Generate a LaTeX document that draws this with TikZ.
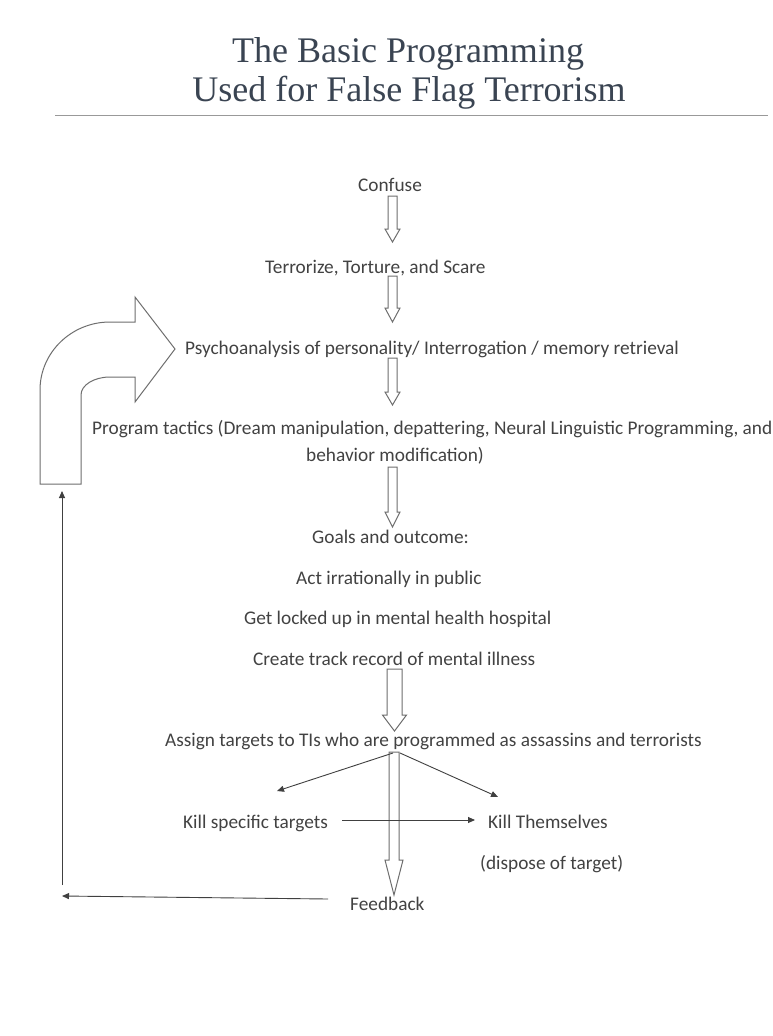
\documentclass[tikz,border=0pt]{standalone}
\usepackage{fontspec}
\setmainfont{Carlito}
\newfontfamily\titlefont{Liberation Serif}
\usetikzlibrary{arrows.meta}
\definecolor{txt}{RGB}{66,66,66}
\definecolor{ttl}{RGB}{58,68,82}
\definecolor{ln}{RGB}{110,110,110}
\newcommand\hollowarrow[6]{%
  \draw[hollow] ({#1-#5},#2) -- ({#1+#5},#2) -- ({#1+#5},#3) -- ({#1+#6},#3) -- (#1,#4)
    -- ({#1-#6},#3) -- ({#1-#5},#3) -- cycle;}
\begin{document}
\begin{tikzpicture}[x=1pt,y=-1pt,
  lbl/.style={anchor=base west, inner sep=0pt, text=txt, font=\fontsize{19.3}{22}\selectfont},
  ttlstyle/.style={anchor=base, inner sep=0pt, text=ttl, font=\titlefont\fontsize{36}{40}\selectfont},
  hollow/.style={draw=ln, line width=1pt, fill=white, line join=miter},
  thinarr/.style={draw=black!75, line width=0.9pt, -{Triangle[length=7pt,width=6pt]}}]
\useasboundingbox (0,0) rectangle (772,1036);
\fill[white] (0,0) rectangle (772,1036);

% title
\node[ttlstyle] (t1) at (408,62) {The Basic Programming};
\node[ttlstyle] (t2) at (409,101) {Used for False Flag Terrorism};
\draw[black!40, line width=1pt] (55,115) -- (768,115);

% hollow arrows
\hollowarrow{392.5}{196}{229}{242}{4.5}{7.5}
\hollowarrow{392.5}{276}{308}{322}{4.5}{7.5}
\hollowarrow{392.5}{358}{392}{405}{4.5}{7.5}
\hollowarrow{392.5}{467}{512}{527}{4.5}{7.5}
\hollowarrow{394.5}{669}{715}{731}{7.5}{12}
\hollowarrow{394}{752}{860}{895}{5}{9}

% curved arrow
\draw[hollow] (40,484) -- (40,390) .. controls (40,352.5) and (71.4,322) .. (110,322)
  -- (135,322) -- (135,297) -- (175,349) -- (135,402) -- (135,377) -- (110,377)
  .. controls (94,377) and (81,385) .. (81,395) -- (81,484) -- cycle;

% labels
\node[lbl] (confuse) at (358,191.5) {Confuse};
\node[lbl] (terr) at (265,273.5) {Terrorize, Torture, and Scare};
\node[lbl] (psy) at (185,354.5) {Psychoanalysis of personality/ Interrogation / memory retrieval};
\node[lbl] (prog) at (92,434.5) {Program tactics (Dream manipulation, depattering, Neural Linguistic Programming, and};
\node[lbl] (beh) at (306,461.5) {behavior modification)};
\node[lbl] (goals) at (312,543.5) {Goals and outcome:};
\node[lbl] (act) at (296,584.5) {Act irrationally in public};
\node[lbl] (get) at (244,624.5) {Get locked up in mental health hospital};
\node[lbl] (create) at (253,665.5) {Create track record of mental illness};
\node[lbl] (assign) at (165,746.5) {Assign targets to TIs who are programmed as assassins and terrorists};
\node[lbl] (kill1) at (183,828.5) {Kill specific targets};
\node[lbl] (kill2) at (488,828.5) {Kill Themselves};
\node[lbl] (disp) at (480,869.5) {(dispose of target)};
\node[lbl] (feed) at (350,910.5) {Feedback};

% thin connectors
\coordinate (splitL) at (393,753);
\coordinate (splitR) at (400,753);
\coordinate (tipL) at (277,791);
\coordinate (tipR) at (498,797);
\coordinate (hS) at (342,820);
\coordinate (hE) at (475,820);
\coordinate (fbR) at (328,899);
\coordinate (fbL) at (62,896);
\coordinate (upB) at (62,885);
\coordinate (upT) at (62,491);
\draw[thinarr] (splitL) -- (tipL);
\draw[thinarr] (splitR) -- (tipR);
\draw[thinarr] (hS) -- (hE);
\draw[thinarr] (fbR) -- (fbL);
\draw[thinarr] (upB) -- (upT);
\end{tikzpicture}
\end{document}
